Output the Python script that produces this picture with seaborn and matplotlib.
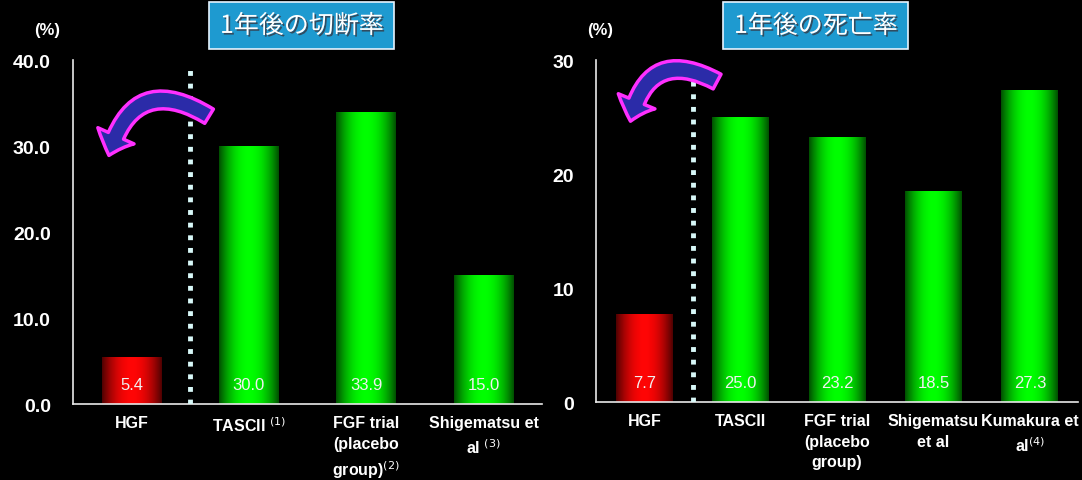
import numpy as np
import matplotlib
matplotlib.use("Agg")
import matplotlib.pyplot as plt
import matplotlib.patheffects as pe
from matplotlib.ticker import FormatStrFormatter
import seaborn as sns

# --- data ---
amp_title = "1年後の切断率"
amp_labels = ["HGF", "TASCII $^{(1)}$", "FGF trial\n(placebo\ngroup)$^{(2)}$", "Shigematsu et\nal $^{(3)}$"]
amp_values = [5.4, 30.0, 33.9, 15.0]
amp_ticks = [0, 10, 20, 30, 40]

mort_title = "1年後の死亡率"
mort_labels = ["HGF", "TASCII", "FGF trial\n(placebo\ngroup)", "Shigematsu\net al", "Kumakura et\nal$^{(4)}$"]
mort_values = [7.7, 25.0, 23.2, 18.5, 27.3]
mort_ticks = [0, 10, 20, 30]

RED = (1.0, 0.02, 0.02)
GREEN = (0.0, 1.0, 0.0)

sns.set_theme(style="dark", rc={"axes.facecolor": "black", "figure.facecolor": "black"})
plt.rcParams['font.family'] = ['Liberation Sans Narrow', 'DejaVu Sans Condensed', 'Liberation Sans', 'DejaVu Sans']
plt.rcParams['mathtext.fontset'] = 'dejavusans'

fig = plt.figure(figsize=(10.82, 4.81), dpi=100)
ax1 = fig.add_axes([0.0675, 0.158, 0.4335, 0.715])
ax2 = fig.add_axes([0.551, 0.162, 0.4453, 0.711])


def shade_bars(ax, colors):
	# horizontal gradient over every bar seaborn drew
	t = np.linspace(-1, 1, 64)
	inten = 1 - 0.68 * np.abs(t) ** 2
	for p, c in zip(ax.patches, colors):
		bb = p.get_bbox()
		img = np.array(c)[None, None, :] * inten[None, :, None]
		ax.imshow(img, extent=[bb.x0, bb.x1, bb.y0, bb.y1], aspect='auto',
				  zorder=p.get_zorder() + 0.1, interpolation='bilinear')


def panel(ax, labels, values, ticks, fmt, width, title, title_x, pct_x):
	colors = [RED] + [GREEN] * (len(values) - 1)
	sns.barplot(x=labels, y=values, hue=labels, palette=colors, legend=False,
				width=width, saturation=1, linewidth=0, ax=ax)
	shade_bars(ax, colors)
	n = len(values)
	ax.set_xlim(-0.5, n - 0.5)
	ax.set_ylim(ticks[0], ticks[-1])
	ax.set_yticks(ticks)
	ax.yaxis.set_major_formatter(FormatStrFormatter(fmt))
	ax.set_xticks(np.arange(1.5, n - 0.5 + 1), minor=True)
	ax.tick_params(axis='x', which='major', length=0, pad=8, colors='white', labelsize=11.5)
	ax.tick_params(axis='x', which='minor', length=5, direction='in', color='white', width=1)
	ax.tick_params(axis='y', length=5, direction='in', color='white', width=1,
				   pad=16, colors='white', labelsize=14)
	for lab in ax.get_xticklabels():
		lab.set_fontweight('bold')
		lab.set_linespacing(1.45)
	for lab in ax.get_yticklabels():
		lab.set_fontweight('bold')
	for s in ['top', 'right']:
		ax.spines[s].set_visible(False)
	for s in ['left', 'bottom']:
		ax.spines[s].set_visible(True)
		ax.spines[s].set_color('#e8e8e8')
		ax.spines[s].set_linewidth(1.2)
	ax.grid(False)
	ax.axvline(0.5, ymax=0.97, color='#d8f8f8', lw=3.5, ls=(0, (1, 1.6)), zorder=5)
	for p, v in zip(ax.patches, values):
		ax.annotate(f"{v:.1f}", xy=(p.get_x() + p.get_width() / 2, 0), xytext=(0, 14),
					textcoords='offset points', ha='center', va='center',
					color='#f0f0f0', fontsize=12, zorder=6)
	fig.text(pct_x, 0.937, "(%)", color='white', fontsize=12, fontweight='bold', ha='center', va='center')
	fig.text(title_x, 0.944, title, color='white', fontsize=18, ha='center', va='center',
			 family=['Noto Sans CJK JP', 'DejaVu Sans'],
			 path_effects=[pe.withSimplePatchShadow(offset=(1.2, -1.2), shadow_rgbFace='#334455', alpha=0.9)],
			 bbox=dict(boxstyle='square,pad=0.42', facecolor='#1e9ad0', edgecolor='#e6f4ff', lw=1.2))


panel(ax1, amp_labels, amp_values, amp_ticks, '%.1f', 0.51, amp_title, 0.279, 0.0434)
panel(ax2, mort_labels, mort_values, mort_ticks, '%d', 0.59, mort_title, 0.754, 0.5545)

arrow = dict(arrowstyle='simple,head_length=1.0,head_width=1.9,tail_width=0.8',
			 connectionstyle='arc3,rad=0.68', facecolor='#2b2ba8', edgecolor='#ff30ff',
			 lw=2.5, mutation_scale=15)
ax1.annotate("", xy=(-0.2, 28.6), xytext=(0.68, 33.3), arrowprops=arrow, zorder=7)
ax2.annotate("", xy=(-0.15, 24.4), xytext=(0.78, 28.0), arrowprops=arrow, zorder=7)

fig.savefig("out.png", dpi=100, facecolor='black')
